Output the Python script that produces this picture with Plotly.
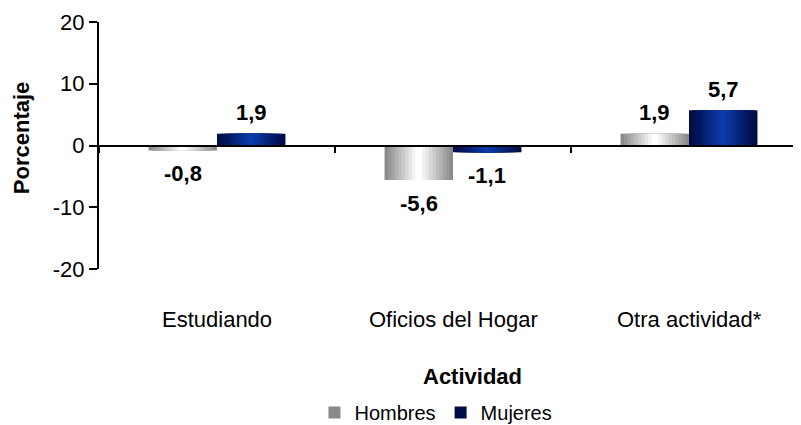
import plotly.graph_objects as go

categories = ["Estudiando", "Oficios del Hogar", "Otra actividad*"]
hombres = [-0.8, -5.6, 1.9]
mujeres = [1.9, -1.1, 5.7]
y_ticks = [-20, -10, 0, 10, 20]

FONT = "Liberation Sans, Arial, sans-serif"
BAR_W = 0.29
LAYERS = 10


def mix(c1, c2, t):
    a = [int(c1[i:i + 2], 16) for i in (1, 3, 5)]
    b = [int(c2[i:i + 2], 16) for i in (1, 3, 5)]
    return "#" + "".join(f"{round(x + (y - x) * t):02x}" for x, y in zip(a, b))


series = [
    ("Hombres", hombres, -BAR_W / 2, "#8a8a8a", "#ffffff"),
    ("Mujeres", mujeres, BAR_W / 2, "#000c45", "#0a3aa8"),
]

fig = go.Figure()
for name, values, center, edge, mid in series:
    # nested bars, narrower and lighter toward the middle, to fake the cylinder shading
    for k in range(LAYERS):
        w = BAR_W * (1 - k / LAYERS)
        fig.add_trace(
            go.Bar(
                x=categories,
                y=values,
                width=w,
                offset=center - w / 2,
                marker={"color": mix(edge, mid, k / (LAYERS - 1)), "line": {"width": 0}},
                name=name,
                legendgroup=name,
                showlegend=k == 0,
                hoverinfo="skip" if k else None,
            )
        )

annotations = []
for name, values, center, edge, mid in series:
    for i, v in enumerate(values):
        annotations.append(
            dict(
                x=i + center,
                y=v,
                xref="x",
                yref="y",
                text=f"{v:.1f}".replace(".", ","),
                showarrow=False,
                yshift=21 if v >= 0 else -23,
                font={"family": FONT, "size": 22, "color": "black", "weight": "bold"},
            )
        )

for i, cat in enumerate(categories):
    annotations.append(
        dict(
            x=i, y=-0.205, xref="x", yref="paper", text=cat, showarrow=False,
            yanchor="middle", font={"family": FONT, "size": 22, "color": "black"},
        )
    )

annotations.append(
    dict(
        x=0.532, y=-0.437, xref="paper", yref="paper", text="<b>Actividad</b>",
        showarrow=False, yanchor="middle", font={"family": FONT, "size": 22, "color": "black"},
    )
)
annotations.append(
    dict(
        x=-0.111, y=0.53, xref="paper", yref="paper", text="<b>Porcentaje</b>",
        textangle=-90, showarrow=False, xanchor="center", yanchor="middle",
        font={"family": FONT, "size": 22, "color": "black"},
    )
)

# the page body adds an 8px offset, so the figure is 8px smaller than the window
fig.update_layout(
    width=793,
    height=417,
    margin={"l": 91, "r": 0, "t": 14, "b": 156, "autoexpand": False},
    paper_bgcolor="white",
    plot_bgcolor="white",
    barmode="overlay",
    font={"family": FONT, "size": 22, "color": "black"},
    annotations=annotations,
    legend={
        "orientation": "h",
        "x": 0.48,
        "xanchor": "center",
        "y": -0.66,
        "yanchor": "bottom",
        "font": {"family": FONT, "size": 20, "color": "black"},
        "itemwidth": 30,
        "bgcolor": "rgba(0,0,0,0)",
    },
    xaxis={
        "type": "category",
        "categoryorder": "array",
        "categoryarray": categories,
        "range": [-0.5, -0.5 + 702 / 236],
        "anchor": "free",
        "position": 0.5,
        "showline": True,
        "linecolor": "black",
        "linewidth": 2,
        "ticks": "outside",
        "tickson": "boundaries",
        "ticklen": 6,
        "tickcolor": "black",
        "tickwidth": 1.5,
        "showticklabels": False,
        "showgrid": False,
    },
    yaxis={
        "range": [-20, 20],
        "tickvals": y_ticks,
        "ticktext": [str(v) for v in y_ticks],
        "showline": True,
        "linecolor": "black",
        "linewidth": 2,
        "ticks": "outside",
        "ticklen": 8,
        "tickcolor": "black",
        "tickwidth": 1.5,
        "showgrid": False,
        "zeroline": False,
        "tickfont": {"family": FONT, "size": 22, "color": "black"},
    },
)

fig.write_html("out.html")
